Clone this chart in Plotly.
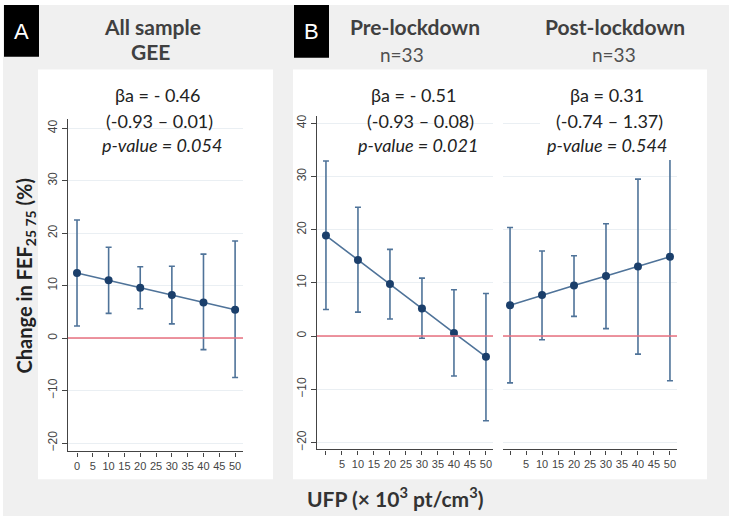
import plotly.graph_objects as go

W, H = 734, 521

# ---------------- data ----------------
ufp = [0, 10, 20, 30, 40, 50]
all_est = [12.4, 11.0, 9.6, 8.2, 6.8, 5.4]
all_lo = [2.3, 4.7, 5.6, 2.7, -2.2, -7.5]
all_hi = [22.5, 17.3, 13.6, 13.7, 16.0, 18.5]
pre_est = [18.9, 14.3, 9.8, 5.2, 0.6, -3.9]
pre_lo = [5.0, 4.5, 3.2, -0.4, -7.5, -15.9]
pre_hi = [32.9, 24.2, 16.3, 10.9, 8.7, 8.0]
post_est = [5.8, 7.7, 9.5, 11.3, 13.1, 14.9]
post_lo = [-8.8, -0.7, 3.7, 1.4, -3.4, -8.4]
post_hi = [20.4, 16.0, 15.1, 21.1, 29.5, 38.2]

y_ticks = [-20, -10, 0, 10, 20, 30, 40]
x_ticks_a = [0, 5, 10, 15, 20, 25, 30, 35, 40, 45, 50]
x_ticks_b = [5, 10, 15, 20, 25, 30, 35, 40, 45, 50]
x_minor_b = [0]

LINE = "#4f7399"
MARK = "#1b3f6b"
GRID = "#eaeff3"
AXC = "#444444"
TICKF = dict(family="Liberation Sans, Arial", size=11, color="#454545")
YTICKF = dict(family="Liberation Sans, Arial", size=12, color="#454545")
TXT = "#404040"
FONT = "Lato, Noto Sans, sans-serif"


def px(x):
    return x / W


def py(y):
    return 1 - y / H


def trace(est, lo, hi, xa, ya):
    return go.Scatter(
        x=ufp, y=est, xaxis=xa, yaxis=ya, mode="lines+markers",
        line=dict(color=LINE, width=1.6),
        marker=dict(color=MARK, size=8),
        error_y=dict(type="data", symmetric=False,
                     array=[h - e for h, e in zip(hi, est)],
                     arrayminus=[e - l for e, l in zip(est, lo)],
                     color=LINE, thickness=1.6, width=3),
        showlegend=False, hoverinfo="skip", cliponaxis=False,
    )


fig = go.Figure()
fig.add_trace(trace(all_est, all_lo, all_hi, "x", "y"))
fig.add_trace(trace(pre_est, pre_lo, pre_hi, "x2", "y2"))
fig.add_trace(trace(post_est, post_lo, post_hi, "x3", "y3"))

xcommon = dict(showgrid=False, zeroline=False, showline=True, linecolor=AXC,
               linewidth=1.3, ticks="outside", ticklen=4, tickcolor=AXC,
               tickfont=TICKF, fixedrange=True, tickangle=0)
ycommon = dict(showgrid=True, gridcolor=GRID, gridwidth=1, zeroline=False,
               tickvals=y_ticks, tickfont=YTICKF, tickangle=-90, fixedrange=True)
minor_b = dict(tickmode="array", tickvals=x_minor_b, ticks="outside",
               ticklen=4, tickcolor=AXC, showgrid=False)

fig.update_layout(
    width=W, height=H, margin=dict(l=0, r=0, t=0, b=0),
    paper_bgcolor="white", plot_bgcolor="rgba(0,0,0,0)",
    xaxis=dict(domain=[px(68), px(243)], range=[-2.85, 52.5], anchor="y",
               tickvals=x_ticks_a, **xcommon),
    yaxis=dict(domain=[py(452), py(118)], range=[-21.6, 41.7], anchor="x",
               showline=True, linecolor=AXC, linewidth=1.3, ticks="outside",
               ticklen=5, tickcolor=AXC, **ycommon),
    xaxis2=dict(domain=[px(317), px(493)], range=[-2.8, 52.2], anchor="y2",
                tickvals=x_ticks_b, minor=minor_b, **xcommon),
    yaxis2=dict(domain=[py(450), py(115)], range=[-21.3, 41.3], anchor="x2",
                showline=True, linecolor=AXC, linewidth=1.3, ticks="outside",
                ticklen=5, tickcolor=AXC, **ycommon),
    xaxis3=dict(domain=[px(503), px(677)], range=[-2.2, 52.2], anchor="y3",
                tickvals=x_ticks_b, minor=minor_b, **xcommon),
    yaxis3=dict(domain=[py(450), py(115)], range=[-21.3, 41.3], anchor="x3",
                showline=False, ticks="", showticklabels=False, **ycommon),
)

shapes = [
    dict(type="rect", xref="paper", yref="paper", x0=px(3), x1=px(729),
         y0=py(517), y1=py(3), fillcolor="#f0f0f0", line_width=0, layer="below"),
    dict(type="rect", xref="paper", yref="paper", x0=px(38), x1=px(273),
         y0=py(480), y1=py(68), fillcolor="white", line_width=0, layer="below"),
    dict(type="rect", xref="paper", yref="paper", x0=px(293), x1=px(707),
         y0=py(480), y1=py(68), fillcolor="white", line_width=0, layer="below"),
    dict(type="rect", xref="paper", yref="paper", x0=px(4), x1=px(39),
         y0=py(55), y1=py(3), fillcolor="black", line_width=0, layer="below"),
    dict(type="rect", xref="paper", yref="paper", x0=px(294), x1=px(329),
         y0=py(56), y1=py(3), fillcolor="black", line_width=0, layer="below"),
]
for xr in ["x", "x2", "x3"]:
    yr = xr.replace("x", "y")
    shapes.append(dict(type="line", xref=f"{xr} domain", yref=yr, x0=0, x1=1,
                       y0=0, y1=0, line=dict(color="#e8707f", width=1.5),
                       layer="above"))
# white text box of the post-lockdown statistics (covers top of last CI)
shapes.append(dict(type="rect", xref="paper", yref="paper", x0=px(540),
                   x1=px(682), y0=py(159), y1=py(78), fillcolor="white",
                   line_width=0, layer="above"))
fig.update_layout(shapes=shapes)


def ann(text, x, y, size, color=TXT, bold=False, italic=False, angle=0,
        family=FONT):
    if bold:
        text = f"<b>{text}</b>"
    if italic:
        text = f"<i>{text}</i>"
    fig.add_annotation(text=text, x=px(x), y=py(y), xref="paper", yref="paper",
                       showarrow=False, xanchor="center", yanchor="middle",
                       textangle=angle,
                       font=dict(family=family, size=size, color=color))


# panel letters
ann("A", 21, 30, 22, color="white", family="Liberation Sans, Arial")
ann("B", 311, 30, 22, color="white", family="Liberation Sans, Arial")

# titles
ann("All sample", 152, 25, 21, bold=True)
ann("GEE", 150, 50, 21, bold=True)
ann("Pre-lockdown", 415, 25, 21, bold=True)
ann("n=33", 402, 53, 19, color="#505050")
ann("Post-lockdown", 615, 25, 21, bold=True)
ann("n=33", 614, 53, 19, color="#505050")

# statistics
ann("βa = - 0.46", 158, 94, 18, color="#222222")
ann("(-0.93 – 0.01)", 159, 120, 18, color="#222222")
ann("p-value = 0.054", 162, 144, 18, color="#222222", italic=True)
ann("βa = - 0.51", 414, 94, 18, color="#222222")
ann("(-0.93 – 0.08)", 420, 120, 18, color="#222222")
ann("p-value = 0.021", 418, 144, 18, color="#222222", italic=True)
ann("βa = 0.31", 607, 94, 18, color="#222222")
ann("(-0.74 – 1.37)", 609, 120, 18, color="#222222")
ann("p-value = 0.544", 607, 144, 18, color="#222222", italic=True)

# axis titles
ann("Change in FEF<sub>25 75</sub> (%)", 25, 276, 20, color="#222222",
    bold=True, angle=-90)
ann("UFP (× 10<sup>3</sup> pt/cm<sup>3</sup>)", 395, 498, 21, color="#333333",
    bold=True)

fig.write_html(
    "out.html",
    config={"displayModeBar": False},
    post_script="document.body.style.margin='0';"
                "document.body.style.overflow='hidden';",
)
